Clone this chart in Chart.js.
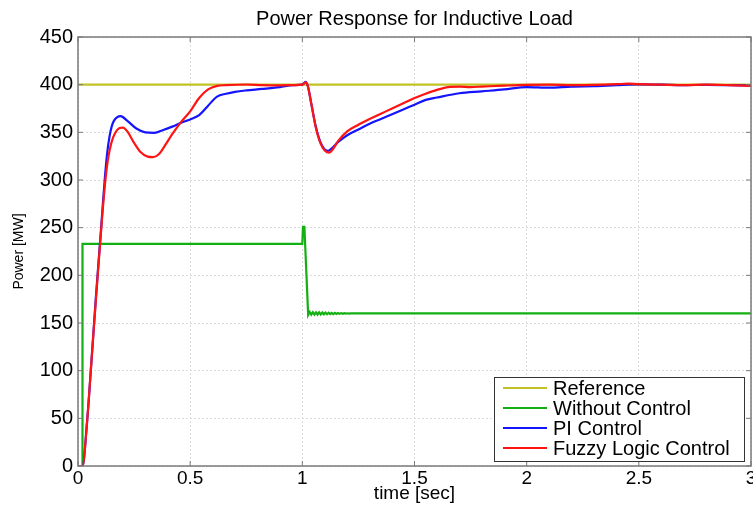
<!DOCTYPE html>
<html>
<head>
<meta charset="utf-8">
<script src="https://cdn.jsdelivr.net/npm/chart.js@4.4.1/dist/chart.umd.min.js"></script>
<style>
  html, body { margin: 0; padding: 0; background: #fff; }
  #wrap { width: 753px; height: 506px; }
</style>
</head>
<body>
<div id="wrap"><canvas id="myChart" width="753" height="506"></canvas></div>
<script>
const chartTitle = "Power Response for Inductive Load";
const seriesNames = ["Reference", "Without Control", "PI Control", "Fuzzy Logic Control"];
const seriesColors = ["#c2c224", "#12b012", "#1414ff", "#ff1414"];

const refTime = [0, 3];
const refPower = [400, 400];

const noCtrlTime = [0, 0.019, 0.02, 1.0, 1.003, 1.006, 1.009, 1.013, 1.026, 1.033, 1.04, 1.047, 1.054, 1.061, 1.068, 1.075, 1.082, 1.089, 1.096, 1.103, 1.11, 1.117, 1.124, 1.131, 1.138, 1.145, 1.152, 1.159, 1.166, 1.173, 1.18, 1.187, 1.194, 1.201, 1.208, 1.215, 1.3, 3.0];
const noCtrlPower = [0, 0, 233, 233, 252, 240, 252, 230, 158.5, 161.5, 158.7, 161.3, 158.8, 161.2, 158.9, 161.1, 159, 161, 159.1, 160.9, 159.2, 160.8, 159.3, 160.7, 159.4, 160.6, 159.5, 160.5, 159.6, 160.4, 159.7, 160.3, 159.8, 160.2, 159.9, 160.1, 160, 160];

const piTime = [0, 0.02, 0.04, 0.06, 0.08, 0.1, 0.11, 0.12, 0.13, 0.14, 0.15, 0.16, 0.175, 0.19, 0.22, 0.26, 0.3, 0.34, 0.38, 0.42, 0.46, 0.5, 0.54, 0.58, 0.62, 0.66, 0.7, 0.75, 0.82, 0.9, 0.96, 1.0, 1.015, 1.025, 1.04, 1.06, 1.08, 1.1, 1.115, 1.13, 1.16, 1.2, 1.25, 1.3, 1.35, 1.4, 1.45, 1.5, 1.55, 1.6, 1.7, 1.8, 1.9, 2.0, 2.1, 2.2, 2.3, 2.4, 2.5, 2.6, 2.7, 2.8, 2.9, 3.0];
const piPower = [0, 0, 45, 110, 178, 240, 272, 303, 328, 345, 356, 362, 366, 367, 362, 354, 350, 349.5, 352.5, 356, 360, 363.5, 368, 378, 387.5, 390.5, 392.5, 394, 395.5, 397.5, 399.5, 400, 403, 398, 380, 356, 340, 332, 330.5, 333, 340, 347, 353, 359, 364, 369, 374, 379, 384, 386.5, 391, 393, 395, 397.5, 396.8, 398, 398.5, 399.5, 400.3, 400, 399.5, 399.8, 399.5, 399];

const fuzzyTime = [0, 0.02, 0.04, 0.06, 0.08, 0.1, 0.11, 0.12, 0.13, 0.14, 0.15, 0.165, 0.185, 0.2, 0.22, 0.25, 0.28, 0.31, 0.335, 0.36, 0.39, 0.42, 0.46, 0.5, 0.54, 0.58, 0.62, 0.66, 0.75, 0.82, 0.9, 0.96, 1.0, 1.015, 1.025, 1.04, 1.06, 1.08, 1.1, 1.12, 1.135, 1.16, 1.2, 1.25, 1.3, 1.35, 1.4, 1.45, 1.5, 1.55, 1.6, 1.65, 1.7, 1.75, 1.8, 1.9, 2.0, 2.1, 2.2, 2.3, 2.4, 2.45, 2.5, 2.6, 2.7, 2.8, 2.9, 3.0];
const fuzzyPower = [0, 0, 45, 110, 175, 238, 268, 295, 316, 330, 340, 349, 354.5, 355, 351, 339, 329, 324.5, 324, 327, 337, 348, 361, 372, 386, 395, 398.7, 399.5, 400.2, 399.5, 399.3, 399.5, 400, 402.5, 398, 380, 355, 339, 331, 328.7, 332, 341, 351, 358, 364, 369.5, 375, 380.5, 386, 390.5, 394.5, 397.5, 398, 397.5, 398, 399, 399.8, 400, 399.6, 399.8, 400.5, 401, 400.5, 400, 399.6, 400, 399.5, 398.7];

const xTicks = [0, 0.5, 1, 1.5, 2, 2.5, 3];
const yTicks = [0, 50, 100, 150, 200, 250, 300, 350, 400, 450];

const toPoints = (t, v) => t.map((x, i) => ({ x: x, y: v[i] }));

const FONT = "'Liberation Sans', Arial, sans-serif";

// frame, inner ticks, title and legend like the matlab figure
const framePlugin = {
  id: "frame",
  afterDatasetsDraw(chart) {
    const { ctx, chartArea: a, scales } = chart;
    ctx.save();
    ctx.strokeStyle = "#7a7a7a";
    ctx.lineWidth = 1.5;
    ctx.strokeRect(a.left, a.top, a.right - a.left, a.bottom - a.top);
    ctx.lineWidth = 1;
    ctx.beginPath();
    xTicks.forEach(v => {
      const px = scales.x.getPixelForValue(v);
      ctx.moveTo(px, a.bottom); ctx.lineTo(px, a.bottom - 5);
      ctx.moveTo(px, a.top); ctx.lineTo(px, a.top + 5);
    });
    yTicks.forEach(v => {
      const py = scales.y.getPixelForValue(v);
      ctx.moveTo(a.left, py); ctx.lineTo(a.left + 5, py);
      ctx.moveTo(a.right, py); ctx.lineTo(a.right - 5, py);
    });
    ctx.stroke();
    ctx.restore();
  },
  afterDraw(chart) {
    const { ctx, chartArea: a } = chart;
    ctx.save();
    ctx.fillStyle = "#000";
    ctx.font = "20px " + FONT;
    ctx.textAlign = "center";
    ctx.textBaseline = "middle";
    ctx.fillText(chartTitle, (a.left + a.right) / 2, 19);

    const w = 250, h = 84;
    const x0 = a.right - 7 - w, y0 = a.bottom - 5 - h;
    ctx.fillStyle = "#fff";
    ctx.fillRect(x0, y0, w, h);
    ctx.strokeStyle = "#333";
    ctx.lineWidth = 1;
    ctx.strokeRect(x0 + 0.5, y0 + 0.5, w, h);
    ctx.textAlign = "left";
    ctx.fillStyle = "#000";
    chart.data.datasets.forEach((ds, i) => {
      const yy = y0 + 11 + i * 20;
      ctx.strokeStyle = ds.borderColor;
      ctx.lineWidth = 2;
      ctx.beginPath();
      ctx.moveTo(x0 + 9, yy); ctx.lineTo(x0 + 53, yy);
      ctx.stroke();
      ctx.fillText(ds.label, x0 + 59, yy + 1);
    });
    ctx.restore();
  }
};

const ctx = document.getElementById("myChart").getContext("2d");
const myChart = new Chart(ctx, {
  type: "line",
  data: {
    datasets: [
      { label: seriesNames[0], data: toPoints(refTime, refPower), borderColor: seriesColors[0], order: 3 },
      { label: seriesNames[1], data: toPoints(noCtrlTime, noCtrlPower), borderColor: seriesColors[1], order: 2 },
      { label: seriesNames[2], data: toPoints(piTime, piPower), borderColor: seriesColors[2], order: 1, cubicInterpolationMode: "monotone" },
      { label: seriesNames[3], data: toPoints(fuzzyTime, fuzzyPower), borderColor: seriesColors[3], order: 0, cubicInterpolationMode: "monotone" }
    ]
  },
  options: {
    responsive: false,
    animation: false,
    devicePixelRatio: 1,
    layout: { padding: { left: 0, right: 2, top: 37, bottom: 0 } },
    elements: {
      point: { radius: 0 },
      line: { borderWidth: 2.2, tension: 0, fill: false }
    },
    plugins: {
      legend: { display: false },
      tooltip: { enabled: false },
      title: { display: false }
    },
    scales: {
      x: {
        type: "linear",
        min: 0, max: 3,
        afterBuildTicks: s => { s.ticks = xTicks.map(v => ({ value: v })); },
        afterFit: s => { s.height = 40; s.paddingLeft = 0; s.paddingRight = 0; },
        grid: { color: "#dcdcdc", drawTicks: false },
        border: { display: false, dash: [2, 2] },
        ticks: { color: "#000", padding: 1, maxRotation: 0, font: { family: FONT, size: 19 }, callback: v => String(v) },
        title: {
          display: true, text: "time [sec]", color: "#000",
          font: { family: FONT, size: 19 }, padding: { top: 0, bottom: 1 }
        }
      },
      y: {
        min: 0, max: 450,
        afterBuildTicks: s => { s.ticks = yTicks.map(v => ({ value: v })); },
        afterFit: s => { s.width = 78; s.paddingTop = 0; s.paddingBottom = 0; },
        grid: { color: "#dcdcdc", drawTicks: false },
        border: { display: false, dash: [2, 2] },
        ticks: { color: "#000", padding: 5, font: { family: FONT, size: 20 }, callback: v => String(v) },
        title: {
          display: true, text: "Power [MW]", color: "#000",
          font: { family: FONT, size: 14 }, padding: { top: 11, bottom: 0 }
        }
      }
    }
  },
  plugins: [framePlugin]
});
</script>
</body>
</html>
